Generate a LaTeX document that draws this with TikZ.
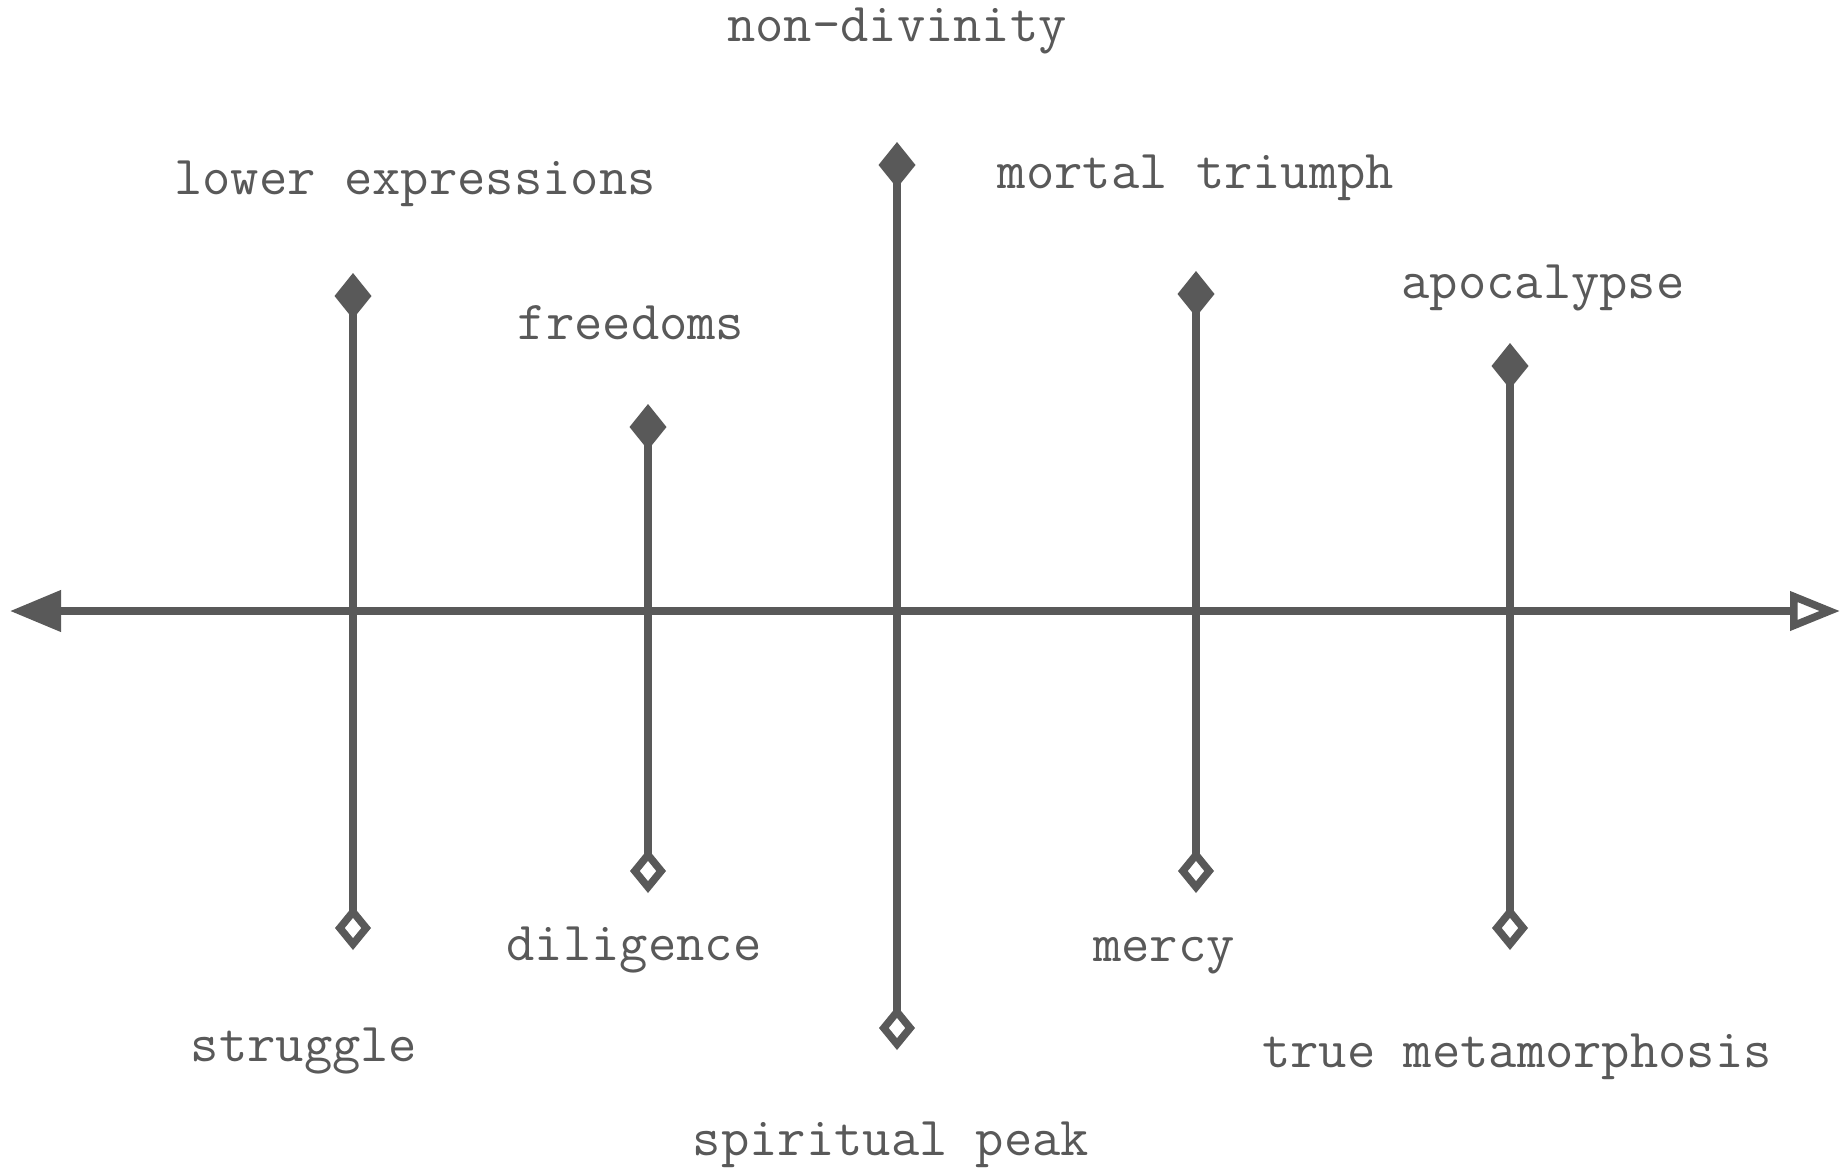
\documentclass[tikz,border=0pt]{standalone}
\usetikzlibrary{arrows.meta}
\definecolor{ink}{RGB}{89,89,89}
\begin{document}
\begin{tikzpicture}[x=1pt,y=-1pt,
  conn/.style={draw=ink,line width=7.5pt},
  lbl/.style={text=ink,font=\ttfamily\fontsize{55}{58}\selectfont,inner sep=0pt},
  stem/.style={conn,{Diamond[open,length=44pt,width=36pt,line width=7.5pt]}-{Diamond[length=46pt,width=37pt]}}
]
\useasboundingbox (0,0) rectangle (1845,1168);
% axis
\coordinate (axl) at (10,611);
\coordinate (axr) at (1840,611);
\draw[conn,{Triangle[length=51pt,width=40pt]}-{Triangle[open,length=50pt,width=38pt,line width=7.5pt]}] (axl) -- (axr);
% stems
\coordinate (t1) at (353,273); \coordinate (b1) at (353,950);
\coordinate (t2) at (648,404); \coordinate (b2) at (648,893);
\coordinate (t3) at (897,142); \coordinate (b3) at (897,1050);
\coordinate (t4) at (1196,271); \coordinate (b4) at (1196,893);
\coordinate (t5) at (1510,343); \coordinate (b5) at (1510,950);
\draw[stem] (b1) -- (t1);
\draw[stem] (b2) -- (t2);
\draw[stem] (b3) -- (t3);
\draw[stem] (b4) -- (t4);
\draw[stem] (b5) -- (t5);
% labels
\node[lbl] (l1) at (897,31) {non-divinity};
\node[lbl] (l2) at (415,184) {lower expressions};
\node[lbl] (l3) at (631,323) {freedoms};
\node[lbl] (l4) at (1196,178) {mortal triumph};
\node[lbl] (l5) at (1543,288) {apocalypse};
\node[lbl] (l6) at (304,1051) {struggle};
\node[lbl] (l7) at (634,950) {diligence};
\node[lbl] (l8) at (891,1145) {spiritual peak};
\node[lbl] (l9) at (1164,956) {mercy};
\node[lbl] (l10) at (1517,1057) {true metamorphosis};
\end{tikzpicture}
\end{document}
